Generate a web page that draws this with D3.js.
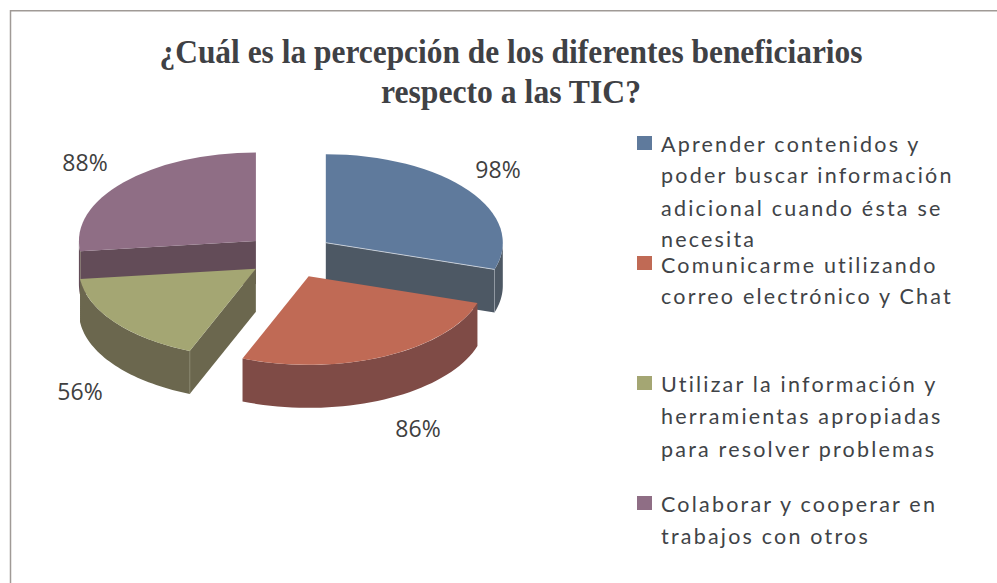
<!DOCTYPE html>
<html>
<head>
<meta charset="utf-8">
<script src="https://cdn.jsdelivr.net/npm/d3@7/dist/d3.min.js"></script>
<style>
  html, body { margin: 0; padding: 0; background: #fff; }
  svg { display: block; }
  .title { font-family: "Liberation Serif", serif; font-weight: bold; font-size: 33px; fill: #3f4145; text-anchor: middle; }
  .legend { font-family: Lato, sans-serif; font-size: 21.5px; fill: #404347; letter-spacing: 2.2px; }
  .pct { font-family: "Open Sans", sans-serif; font-size: 23px; fill: #404040; text-anchor: middle; }
</style>
</head>
<body>
<svg id="chart" width="997" height="583"></svg>
<script>
var titleLines = ['¿Cuál es la percepción de los diferentes beneficiarios', 'respecto a las TIC?']
var values = [98, 86, 56, 88]
var valueLabels = ['98%', '86%', '56%', '88%']
var legendLines = [
  ['Aprender contenidos y', 'poder buscar información', 'adicional cuando ésta se', 'necesita'],
  ['Comunicarme utilizando', 'correo electrónico y Chat'],
  ['Utilizar la información y', 'herramientas apropiadas', 'para resolver problemas'],
  ['Colaborar y cooperar en', 'trabajos con otros']
]
var topColors = ['#5f7a9c', '#c06a55', '#a4a673', '#8f6e85']
var sideColors = ['#4d5864', '#7f4b46', '#6b674e', '#634c58']

var center = {x: 289.5, y: 256}
var rx = 177
var tilt = 0.5
var depth = 43
var explode = [45, 45, 42.3, 45]
var titleWidths = [703, 260]
var labelPos = [[498, 170], [418, 429], [80, 392], [85, 163]]
var legendRows = [[152, 183, 216, 247], [273, 304], [392, 424, 457], [512, 544]]
var swatchY = [136, 256, 376, 496]

var svg = d3.select('#chart')

svg.append('rect')
  .attr('x', 10.5).attr('y', 10.75)
  .attr('width', 1000).attr('height', 600)
  .attr('fill', '#fff').attr('stroke', '#a09a96').attr('stroke-width', 1.5)

svg.selectAll('.title')
  .data(titleLines)
  .enter()
  .append('text')
  .attr('class', 'title')
  .attr('x', 511)
  .attr('y', function (d, i) { return 63 + i * 40 })
  .attr('textLength', function (d, i) { return titleWidths[i] })
  .attr('lengthAdjust', 'spacingAndGlyphs')
  .text(function (d) { return d })

var slices = d3.pie().sort(null)(values)

var arc = d3.arc().innerRadius(0).outerRadius(rx)

function px (a) { return rx * Math.sin(a) }
function py (a) { return -rx * tilt * Math.cos(a) }

slices.forEach(function (s, i) {
  var mid = (s.startAngle + s.endAngle) / 2
  s.ox = center.x + explode[i] * Math.sin(mid)
  s.oy = center.y - explode[i] * tilt * Math.cos(mid)
})

var line = d3.line()

// back to front, the same way the 3D pie overlaps
var order = [3, 0, 2, 1]

order.forEach(function (i) {
  var s = slices[i]
  var g = svg.append('g').attr('transform', 'translate(' + s.ox + ',' + s.oy + ')')

  // radial faces, only the ones turned to the viewer
  ;[s.startAngle, s.endAngle].forEach(function (a, k) {
    var facing = k === 0 ? Math.sin(a) < -1e-6 : Math.sin(a) > 1e-6
    if (!facing) return
    g.append('path')
      .attr('d', line([[0, 0], [px(a), py(a)], [px(a), py(a) + depth], [0, depth]]) + 'Z')
      .attr('fill', sideColors[i])
    g.append('line')
      .attr('x1', px(a)).attr('y1', py(a))
      .attr('x2', px(a)).attr('y2', py(a) + depth)
      .attr('stroke', i === 0 ? '#d5dbe2' : '#a9a98e')
      .attr('stroke-width', 0.8)
  })

  // outer wall on the front half of the ellipse
  var a0 = Math.max(s.startAngle, Math.PI / 2)
  var a1 = Math.min(s.endAngle, Math.PI * 1.5)
  if (a1 > a0) {
    var steps = d3.range(0, 41).map(function (t) { return a0 + (a1 - a0) * t / 40 })
    var upper = steps.map(function (a) { return [px(a), py(a)] })
    var lower = steps.slice().reverse().map(function (a) { return [px(a), py(a) + depth] })
    g.append('path')
      .attr('d', line(upper.concat(lower)) + 'Z')
      .attr('fill', sideColors[i])
  }

  g.append('path')
    .attr('d', arc(s))
    .attr('transform', 'scale(1,' + tilt + ')')
    .attr('fill', topColors[i])

  if (i === 0) {
    g.append('line')
      .attr('x1', 0).attr('y1', 0)
      .attr('x2', px(s.endAngle)).attr('y2', py(s.endAngle))
      .attr('stroke', '#d5dbe2')
      .attr('stroke-width', 0.8)
  }
})

svg.selectAll('.pct')
  .data(valueLabels)
  .enter()
  .append('text')
  .attr('class', 'pct')
  .attr('x', function (d, i) { return labelPos[i][0] })
  .attr('y', function (d, i) { return labelPos[i][1] + 8 })
  .text(function (d) { return d })

legendLines.forEach(function (lines, i) {
  svg.append('rect')
    .attr('x', 637).attr('y', swatchY[i])
    .attr('width', 15).attr('height', 14)
    .attr('fill', topColors[i])
  lines.forEach(function (t, j) {
    svg.append('text')
      .attr('class', 'legend')
      .attr('x', 661)
      .attr('y', legendRows[i][j])
      .text(t)
  })
})
</script>
</body>
</html>
